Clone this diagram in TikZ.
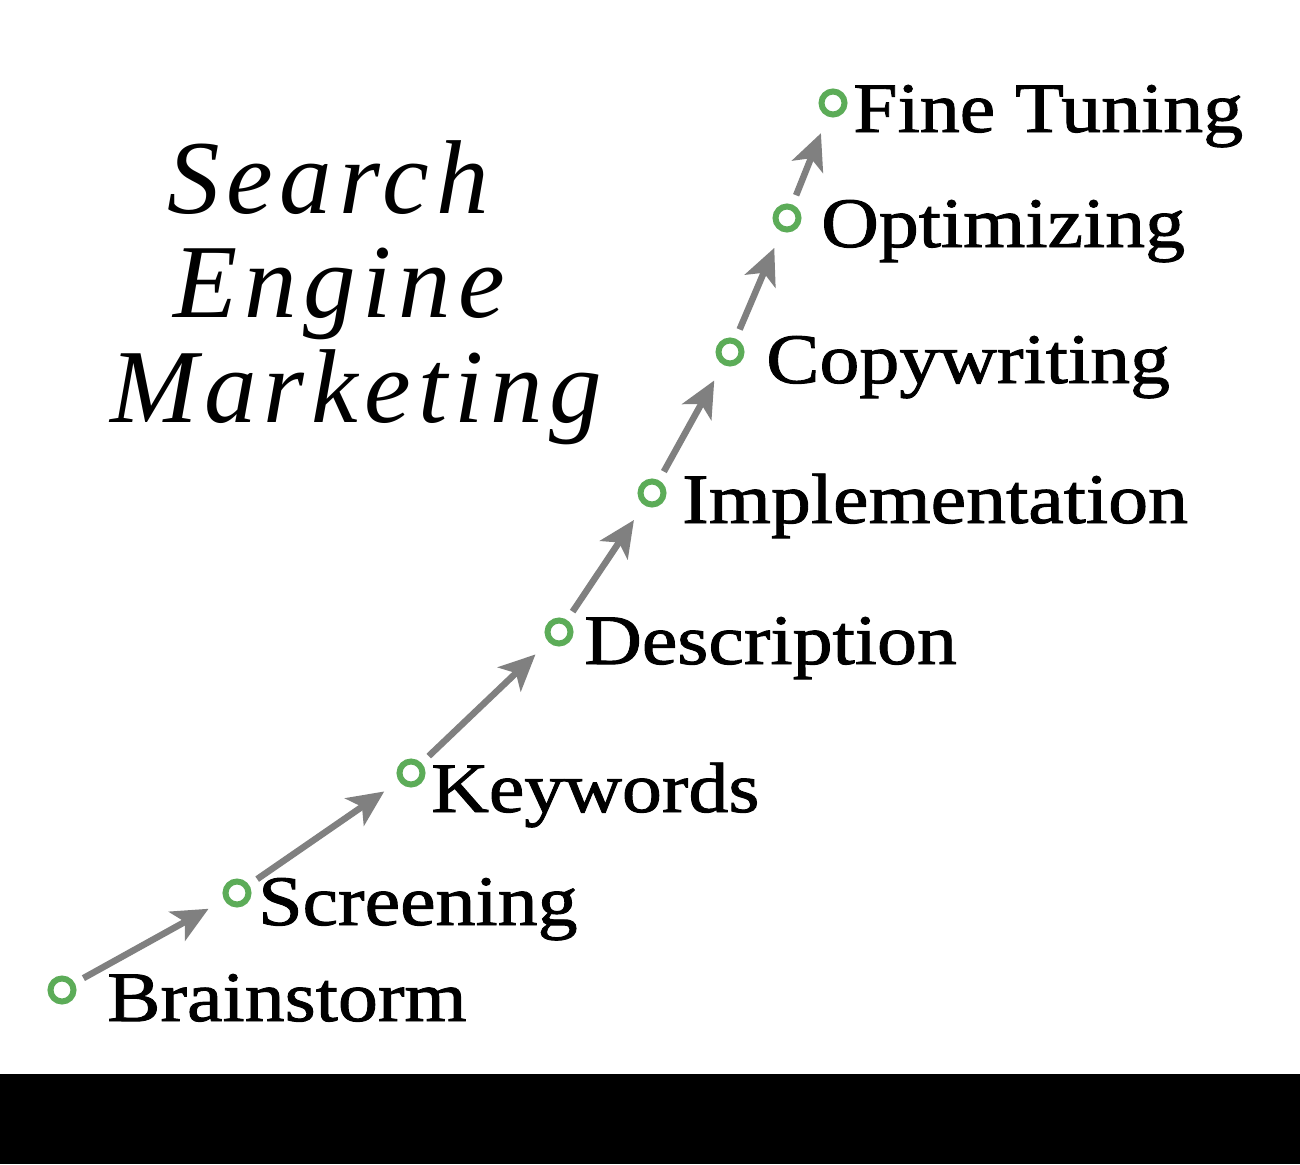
\documentclass[tikz,border=0pt]{standalone}
\usepackage{fontspec}
\setmainfont{Liberation Serif}
\newfontfamily\stepfont[FakeStretch=1.125, FakeBold=1.3]{Liberation Serif}
\newfontfamily\titlefont[LetterSpace=6.5]{Liberation Serif}
\usetikzlibrary{arrows.meta}
\definecolor{stepgreen}{RGB}{92,172,88}
\definecolor{flowgray}{RGB}{128,128,128}
\tikzset{
    stepdot/.style={circle, draw=stepgreen, line width=6pt, minimum size=23pt, inner sep=0pt},
    steplabel/.style={anchor=base west, inner sep=0pt, font=\stepfont\fontsize{71}{71}\selectfont},
    titleline/.style={anchor=base west, inner sep=0pt, font=\titlefont\itshape\fontsize{105}{105}\selectfont},
    stepflow/.style={draw=flowgray, line width=6.5pt, -{Stealth[length=36pt, width=33pt, inset=9pt]},
        shorten <=10pt, shorten >=18pt}
}
\begin{document}
\begin{tikzpicture}[x=1pt, y=-1pt]
        \useasboundingbox (0,0) rectangle (1300,1164);
        \fill[white] (0,0) rectangle (1300,1074);
        \fill[black] (0,1074) rectangle (1300,1164);
        % title
        \node[titleline] (title-a) at (167,213) {Search};
        \node[titleline] (title-b) at (173,317) {Engine};
        \node[titleline] (title-c) at (110,422) {Marketing};
        % steps
        \foreach\n/\cx/\cy/\lx/\ly/\t in
            {brain/62/990/107/1021/Brainstorm,
             screen/237/893/258/925/Screening,
             keyw/411/773/431/812/Keywords,
             descr/559/632/584/664/Description,
             impl/652/493/682/523/Implementation,
             copyw/730/352/766/383/Copywriting,
             optim/787/218/821/247/Optimizing,
             fine/833/103/853/132/Fine Tuning}
        {%
            \node[stepdot] (\n) at (\cx,\cy) {};
            \node[steplabel] (\n-label) at (\lx,\ly) {\t};
        }
        \foreach\a/\b in {brain/screen, screen/keyw, keyw/descr, descr/impl,
                          impl/copyw, copyw/optim, optim/fine}
            \draw[stepflow] (\a) -- (\b);
\end{tikzpicture}
\end{document}
